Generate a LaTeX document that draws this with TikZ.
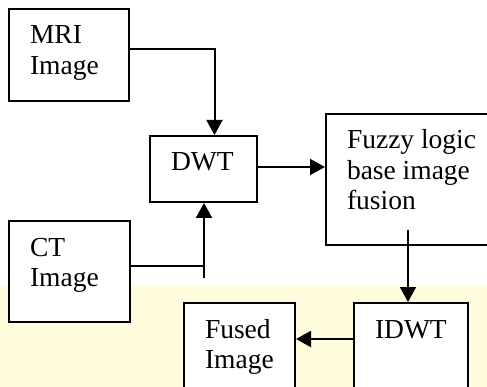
\documentclass[tikz,border=0pt]{standalone}
\usepackage{fontspec}
\setmainfont{Liberation Serif}
\usepackage{xcolor}
\usetikzlibrary{arrows.meta}

\definecolor{paleyellow}{HTML}{FFFDDC}

% box text: width, height, lines (top left, fixed first baseline)
\newcommand{\blocktext}[3]{\parbox[b][#2][t]{#1}{\raggedright\leftskip=21pt\rule{0pt}{35pt}#3}}

\begin{document}
\begin{tikzpicture}[x=1pt,y=-1pt,font=\fontsize{27.5}{30.5}\selectfont]
\tikzset{blk/.style={draw,line width=2pt,fill=white,inner sep=0pt,anchor=north west},
         line/.style={draw,line width=2pt},
         flow/.style={line,-{Triangle[length=15pt,width=16pt]}}}
    \useasboundingbox (0,0) rectangle (487,387);
    \clip (0,0) rectangle (487,387);
    \fill[paleyellow] (0,286) rectangle (487,387);
    % blocks
    \node[blk] (mri) at (8,8) {\blocktext{120pt}{92pt}{MRI\\Image}};
    \node[blk] (ct) at (8,220) {\blocktext{121pt}{101pt}{CT\\Image}};
    \node[blk] (dwt) at (149,135) {\blocktext{107pt}{66pt}{DWT}};
    \node[blk] (fuzzy) at (325,113) {\blocktext{175pt}{131pt}{Fuzzy logic\\base image\\fusion}};
    \node[blk] (idwt) at (353,302) {\blocktext{114pt}{100pt}{IDWT}};
    \node[blk] (fused) at (183,302) {\blocktext{111pt}{100pt}{Fused\\Image}};
    \coordinate (ctstub) at (204,278);
    \coordinate (fzout) at (408,230);
    % connectors
    \draw[flow] ([yshift=6pt]mri.east) -| ([xshift=11pt]dwt.north);
    \draw[line] ([yshift=5.5pt]ct.east) -- ([yshift=5.5pt]ct.east -| ctstub);
    \draw[flow] (ctstub) -- (ctstub |- dwt.south);
    \draw[flow] ([yshift=2pt]dwt.east) -- ([yshift=2pt]dwt.east -| fuzzy.west);
    \draw[flow] (fzout) -- (fzout |- idwt.north);
    \draw[flow] ([yshift=14pt]idwt.west) -- ([yshift=14pt]idwt.west -| fused.east);
\end{tikzpicture}
\end{document}
